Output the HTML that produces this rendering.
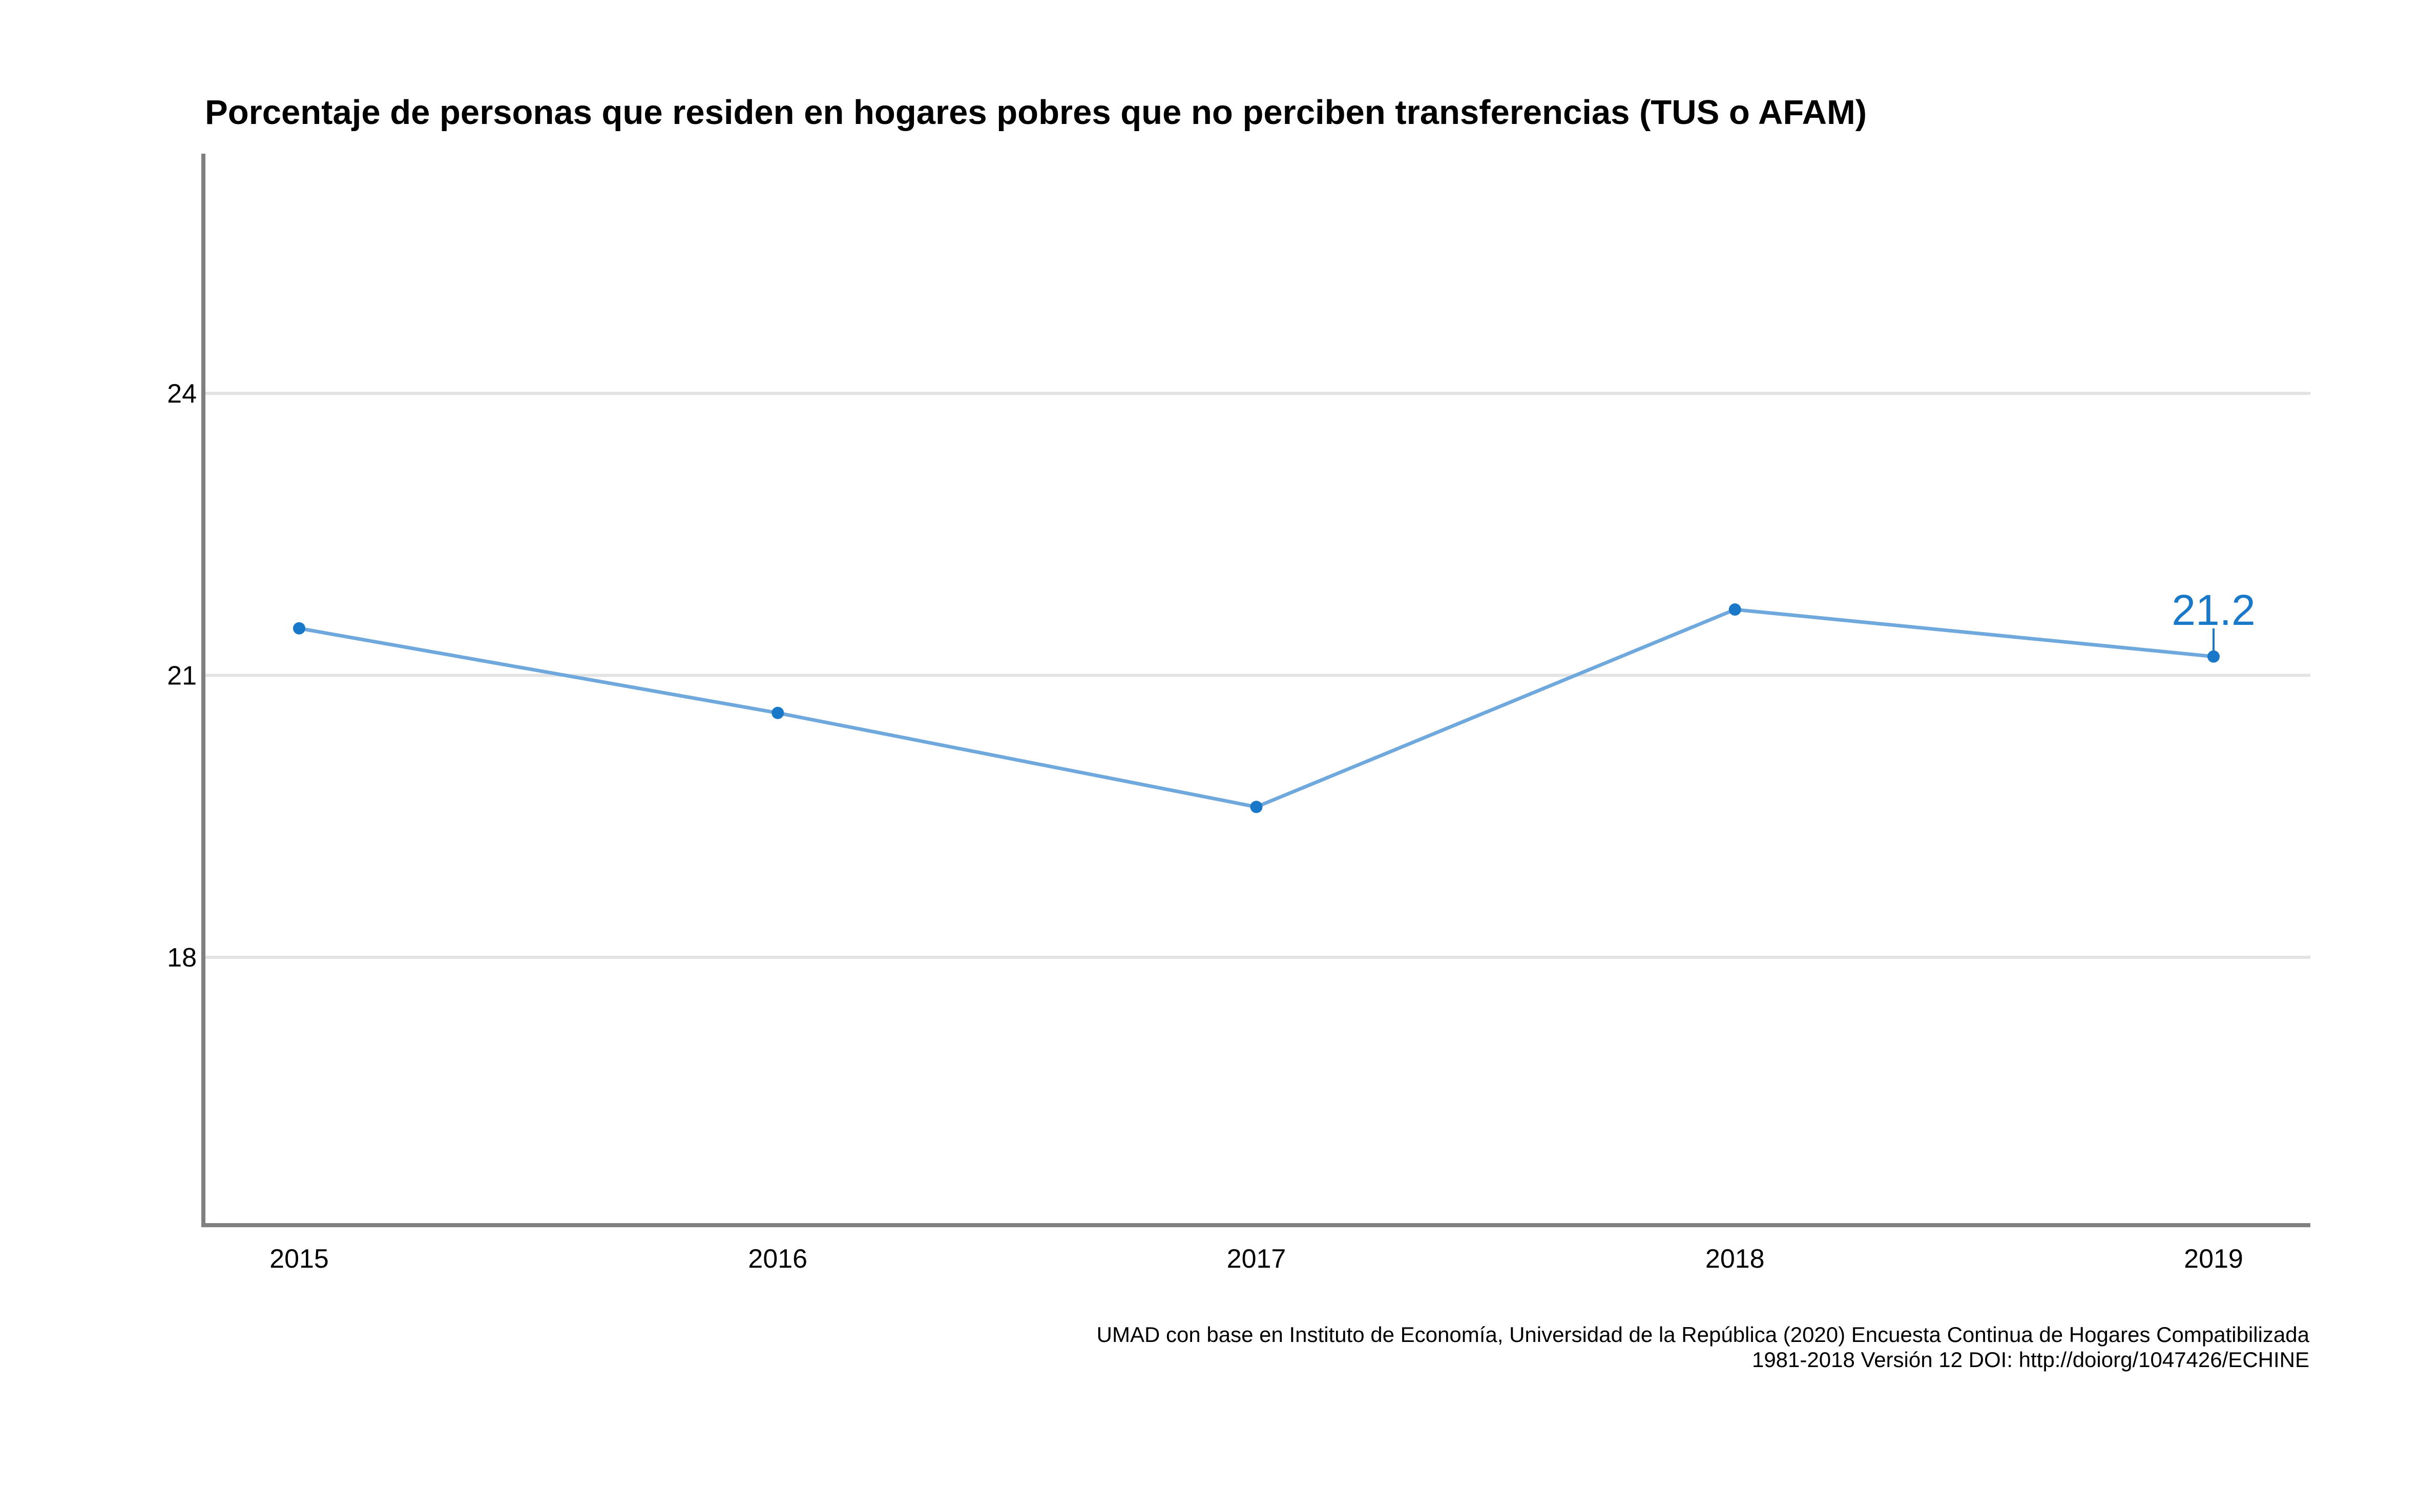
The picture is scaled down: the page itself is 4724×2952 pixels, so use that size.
<!DOCTYPE html>
<html><head><meta charset="utf-8"><style>
html,body{margin:0;padding:0;background:#fff;}
svg{display:block;font-family:"Liberation Sans",Arial,sans-serif;}
</style></head><body>
<svg id="chart" width="4724" height="2952" viewBox="0 0 4724 2952" xmlns="http://www.w3.org/2000/svg">
<rect width="4724" height="2952" fill="#fff"/>
<text x="400" y="242" font-size="67" font-weight="bold" fill="#000">Porcentaje de personas que residen en hogares pobres que no perciben transferencias (TUS o AFAM)</text>
<g id="grid"></g>
<g id="yticks"></g>
<g id="xticks"></g>
<line x1="397" y1="300" x2="397" y2="2392" stroke="#808080" stroke-width="8"/>
<line x1="393" y1="2392" x2="4510" y2="2392" stroke="#808080" stroke-width="8"/>
<g id="series"></g>
<text x="4508" y="2620" font-size="42" text-anchor="end" fill="#000">UMAD con base en Instituto de Economía, Universidad de la República (2020) Encuesta Continua de Hogares Compatibilizada </text>
<text x="4508" y="2669" font-size="42" text-anchor="end" fill="#000">1981-2018 Versión 12 DOI: http://doiorg/1047426/ECHINE</text>
</svg>
<script>
const years = ["2015","2016","2017","2018","2019"];
const values = [21.5, 20.6, 19.6, 21.7, 21.2];
const yTicks = [18, 21, 24];
const yTickLabels = ["18", "21", "24"];
const labelIndex = 4;
const labelText = "21.2";

const NS = "http://www.w3.org/2000/svg";
function xScale(i){ return 584 + i * (4321 - 584) / (years.length - 1); }
function yScale(v){ return 1869 - (v - 18) * (1869 - 768) / 6; }
function mk(tag, attrs, parent){
  const e = document.createElementNS(NS, tag);
  for (const k in attrs) e.setAttribute(k, attrs[k]);
  parent.appendChild(e);
  return e;
}
const grid = document.getElementById('grid');
const yt = document.getElementById('yticks');
const xt = document.getElementById('xticks');
const ser = document.getElementById('series');
yTicks.forEach((t, i) => {
  const y = yScale(t);
  const g = mk('line', {x1: 401, x2: 4510, y1: y, y2: y, stroke: '#e3e3e3', 'stroke-width': 6}, grid);
  
  
  const l = mk('text', {x: 384, y: y + 18, 'font-size': 52, 'text-anchor': 'end', fill: '#000'}, yt);
  l.textContent = yTickLabels[i];
  
  
});
years.forEach((yr, i) => {
  const l = mk('text', {x: xScale(i), y: 2475, 'font-size': 52, 'text-anchor': 'middle', fill: '#000'}, xt);
  l.textContent = yr;
  
  
});
const pts = values.map((v, i) => xScale(i) + ',' + yScale(v)).join(' ');
const pl = mk('polyline', {points: pts, fill: 'none', stroke: '#6fa8dc', 'stroke-width': 7, 'stroke-linejoin': 'round'}, ser);


values.forEach((v, i) => {
  const c = mk('circle', {cx: xScale(i), cy: yScale(v), r: 12, fill: '#1a78c8'}, ser);
  
  
});
const lx = xScale(labelIndex), ly = yScale(values[labelIndex]);
const ll = mk('line', {x1: lx, x2: lx, y1: ly - 10, y2: ly - 55, stroke: '#1a78c8', 'stroke-width': 4}, ser);


const lt = mk('text', {x: lx, y: ly - 62, 'font-size': 84, 'text-anchor': 'middle', fill: '#1a78c8'}, ser);
lt.textContent = labelText;


</script>
</body></html>
